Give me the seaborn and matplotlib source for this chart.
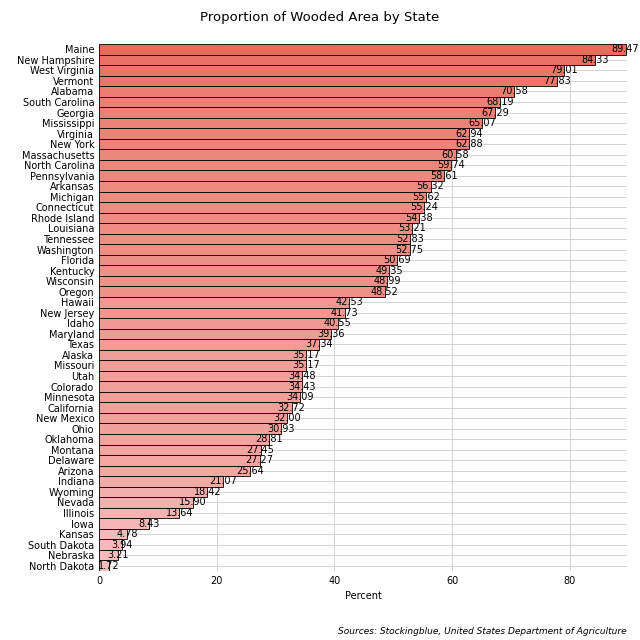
import matplotlib
matplotlib.use("Agg")
import matplotlib.pyplot as plt
import seaborn as sns
import numpy as np
import pandas as pd
from matplotlib.colors import LinearSegmentedColormap

states = ["Maine","New Hampshire","West Virginia","Vermont","Alabama","South Carolina","Georgia","Mississippi","Virginia","New York","Massachusetts","North Carolina","Pennsylvania","Arkansas","Michigan","Connecticut","Rhode Island","Louisiana","Tennessee","Washington","Florida","Kentucky","Wisconsin","Oregon","Hawaii","New Jersey","Idaho","Maryland","Texas","Alaska","Missouri","Utah","Colorado","Minnesota","California","New Mexico","Ohio","Oklahoma","Montana","Delaware","Arizona","Indiana","Wyoming","Nevada","Illinois","Iowa","Kansas","South Dakota","Nebraska","North Dakota"]
values = [89.47,84.33,79.01,77.83,70.58,68.19,67.29,65.07,62.94,62.88,60.58,59.74,58.61,56.32,55.62,55.24,54.38,53.21,52.83,52.75,50.69,49.35,48.99,48.52,42.53,41.73,40.55,39.36,37.34,35.17,35.17,34.48,34.43,34.09,32.72,32.00,30.93,28.81,27.45,27.27,25.64,21.07,18.42,15.90,13.64,8.43,4.78,3.94,3.21,1.72]

df = pd.DataFrame({"state": states, "value": values})
cmap = LinearSegmentedColormap.from_list("c", ["#FFB3B3", "#FF5A45"])
vmin, vmax = min(values), max(values)
palette = [cmap((v - vmin) / (vmax - vmin)) for v in values]

fig = plt.figure(figsize=(6.4, 6.4), dpi=100)
ax = fig.add_axes([99/640, 1-571/640, (627-99)/640, (571-44)/640])
sns.barplot(data=df, x="value", y="state", hue="state", palette=palette, legend=False,
            width=1.0, edgecolor="black", linewidth=0.6, ax=ax, zorder=3)
ax.set_xlim(0, 89.7)
ax.set_ylim(len(states)-0.5, -0.5)
ax.set_xticks([0, 20, 40, 60, 80])
ax.grid(True, color="#cccccc", linewidth=0.6, zorder=0)
ax.set_axisbelow(True)
for s in ax.spines.values():
    s.set_visible(False)
ax.tick_params(length=0, labelsize=7)
ax.set_ylabel("")
ax.set_xlabel("Percent", fontsize=7)
for i, v in enumerate(values):
    ax.text(v, i, f"{v:.2f}", ha="center", va="center", fontsize=7, zorder=4)
fig.text(0.5, 1-17/640, "Proportion of Wooded Area by State", ha="center", va="center", fontsize=9.5)
fig.text(627/640, 1-631/640, "Sources: Stockingblue, United States Department of Agriculture",
         ha="right", va="center", fontsize=6.5, style="italic")
fig.savefig("out.png", dpi=100)
